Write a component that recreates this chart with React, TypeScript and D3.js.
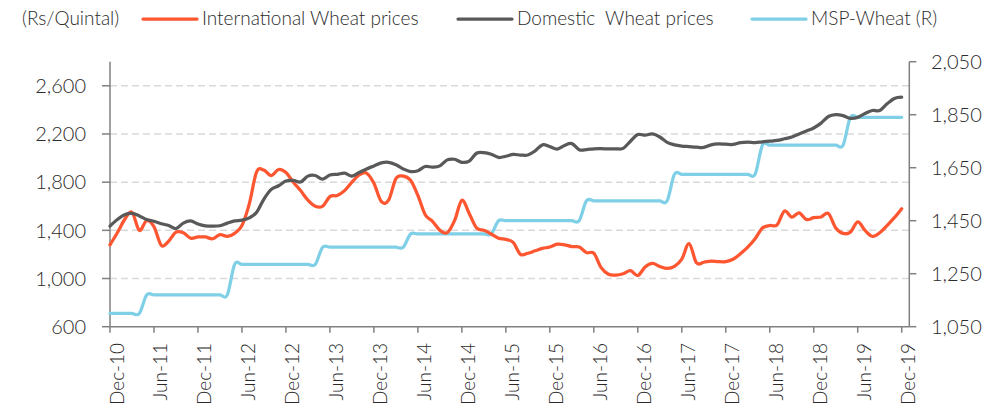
import React, { useEffect } from "react";
import * as d3 from "d3";

// monthly categories Dec-10 .. Dec-19
const months = d3
  .timeMonth.range(new Date(2010, 11, 1), new Date(2020, 0, 1))
  .map(d3.timeFormat("%b-%y"));

const tickLabels = [
  "Dec-10", "Jun-11", "Dec-11", "Jun-12", "Dec-12", "Jun-13", "Dec-13",
  "Jun-14", "Dec-14", "Jun-15", "Dec-15", "Jun-16", "Dec-16", "Jun-17",
  "Dec-17", "Jun-18", "Dec-18", "Jun-19", "Dec-19"
];
const leftTicks = [600, 1000, 1400, 1800, 2200, 2600];
const rightTicks = [1050, 1250, 1450, 1650, 1850, 2050];

const intlPrices = [
  1280, 1380, 1490, 1550, 1400, 1480, 1430, 1275, 1310, 1385,
  1380, 1335, 1345, 1345, 1330, 1365, 1350, 1375, 1440, 1620,
  1885, 1900, 1855, 1905, 1880, 1800, 1730, 1650, 1600, 1600,
  1680, 1690, 1730, 1800, 1860, 1875, 1790, 1640, 1650, 1830,
  1850, 1815, 1690, 1530, 1475, 1400, 1380, 1480, 1650, 1540,
  1420, 1400, 1370, 1335, 1325, 1300, 1200, 1210, 1230, 1250,
  1262, 1285, 1280, 1265, 1262, 1215, 1210, 1090, 1035, 1028,
  1040, 1065, 1025, 1095, 1125, 1100, 1084, 1100, 1160, 1290,
  1130, 1135, 1145, 1140, 1140, 1160, 1205, 1260, 1330, 1420,
  1440, 1445, 1560, 1510, 1545, 1490, 1505, 1511, 1540, 1420,
  1375, 1385, 1470, 1400, 1350, 1380, 1440, 1505, 1580
];

const domesticPrices = [
  1435, 1490, 1530, 1540, 1520, 1490, 1475, 1455, 1440, 1415,
  1460, 1478, 1452, 1437, 1434, 1438, 1460, 1478, 1485, 1503,
  1550, 1660, 1740, 1770, 1810, 1815, 1801, 1850, 1855, 1825,
  1860, 1865, 1875, 1850, 1880, 1910, 1935, 1960, 1965, 1945,
  1910, 1888, 1895, 1930, 1925, 1935, 1985, 1990, 1965, 1975,
  2040, 2045, 2032, 2005, 2015, 2030, 2025, 2025, 2060, 2110,
  2095, 2075, 2105, 2120, 2070, 2070, 2077, 2078, 2076, 2077,
  2080, 2140, 2195, 2190, 2200, 2175, 2130, 2110, 2100, 2095,
  2090, 2088, 2110, 2118, 2115, 2113, 2128, 2132, 2128, 2135,
  2140, 2146, 2160, 2175, 2200, 2225, 2250, 2290, 2345, 2360,
  2352, 2330, 2338, 2370, 2395, 2395, 2450, 2495, 2505
];

const mspWheat = [
  1100, 1100, 1100, 1100, 1100,
  1170, 1170, 1170, 1170, 1170, 1170, 1170, 1170, 1170, 1170, 1170, 1170,
  1285, 1285, 1285, 1285, 1285, 1285, 1285, 1285, 1285, 1285, 1285, 1285,
  1350, 1350, 1350, 1350, 1350, 1350, 1350, 1350, 1350, 1350, 1350, 1350,
  1400, 1400, 1400, 1400, 1400, 1400, 1400, 1400, 1400, 1400, 1400, 1400,
  1450, 1450, 1450, 1450, 1450, 1450, 1450, 1450, 1450, 1450, 1450, 1450,
  1525, 1525, 1525, 1525, 1525, 1525, 1525, 1525, 1525, 1525, 1525, 1525,
  1625, 1625, 1625, 1625, 1625, 1625, 1625, 1625, 1625, 1625, 1625, 1625,
  1735, 1735, 1735, 1735, 1735, 1735, 1735, 1735, 1735, 1735, 1735, 1735,
  1840, 1840, 1840, 1840, 1840, 1840, 1840, 1840
];

const W = 1004;
const H = 409;
const left = 110;
const right = 909.3;
const top = 61.7;
const bottom = 326.7;

const ORANGE = "#fd5630";
const GREY = "#595959";
const BLUE = "#7fd0e7";
const AXIS = "#808080";
const TEXT = "#2b2b2b";
const FONT = "Lato, 'Open Sans', sans-serif";

export default function App() {
  useEffect(() => {
    document.body.style.margin = "0";
  }, []);

  const x = d3.scalePoint().domain(months).range([left, 901.7]);
  const yL = d3.scaleLinear().domain([600, 2800]).range([bottom, top]);
  const yR = d3.scaleLinear().domain([1050, 2050]).range([bottom, top]);
  const fmt = d3.format(",");

  const lineL = d3
    .line<number>()
    .x((_, i) => x(months[i]) as number)
    .y(d => yL(d))
    .curve(d3.curveCardinal);
  const lineR = d3
    .line<number>()
    .x((_, i) => x(months[i]) as number)
    .y(d => yR(d))
    .curve(d3.curveCardinal);

  const legend = [
    { label: "International Wheat prices", color: ORANGE, x: 143 },
    { label: "Domestic  Wheat prices", color: GREY, x: 458 },
    { label: "MSP-Wheat (R)", color: BLUE, x: 752 }
  ];

  return (
    <svg width={W} height={H} style={{ display: "block", background: "#fff" }}
      fontFamily={FONT} fontWeight={300}>
      {/* gridlines */}
      {leftTicks.slice(1).map(t => (
        <line key={t} x1={left} x2={right} y1={yL(t)} y2={yL(t)}
          stroke="#d9d9d9" strokeWidth={1.5} strokeDasharray="7,4" />
      ))}

      {/* left axis */}
      <line x1={left} x2={left} y1={top} y2={bottom} stroke={AXIS} strokeWidth={1.5} />
      {leftTicks.map(t => (
        <g key={t}>
          <line x1={left - 8} x2={left} y1={yL(t)} y2={yL(t)} stroke={AXIS} strokeWidth={1.5} />
          <text x={86} y={yL(t)} dy="0.36em" textAnchor="end" fontSize={20} fill={TEXT}>{fmt(t)}</text>
        </g>
      ))}

      {/* right axis */}
      <line x1={right} x2={right} y1={top} y2={bottom} stroke={AXIS} strokeWidth={1.5} />
      {rightTicks.map(t => (
        <g key={t}>
          <line x1={right} x2={right + 7} y1={yR(t)} y2={yR(t)} stroke={AXIS} strokeWidth={1.5} />
          <text x={931} y={yR(t)} dy="0.36em" textAnchor="start" fontSize={20} fill={TEXT}>{fmt(t)}</text>
        </g>
      ))}

      {/* x axis */}
      <line x1={left} x2={right} y1={bottom} y2={bottom} stroke={AXIS} strokeWidth={1.5} />
      {tickLabels.map(l => {
        const tx = x(l) as number;
        return (
          <g key={l}>
            <line x1={tx} x2={tx} y1={bottom} y2={bottom + 6} stroke={AXIS} strokeWidth={1.5} />
            <text transform={`translate(${tx + 13.5},343) rotate(-90)`} textAnchor="end"
              fontSize={19} fill={TEXT}>{l}</text>
          </g>
        );
      })}

      {/* series */}
      <path d={lineR(mspWheat) ?? ""} fill="none" stroke={BLUE} strokeWidth={3.25} strokeLinecap="round" />
      <path d={lineL(intlPrices) ?? ""} fill="none" stroke={ORANGE} strokeWidth={3.25} strokeLinecap="round" />
      <path d={lineL(domesticPrices) ?? ""} fill="none" stroke={GREY} strokeWidth={3.25} strokeLinecap="round" />

      {/* legend */}
      <text x={22} y={25} fontSize={19} fill={TEXT}>(Rs/Quintal)</text>
      {legend.map(d => (
        <g key={d.label}>
          <line x1={d.x} x2={d.x + 54} y1={19} y2={19} stroke={d.color} strokeWidth={3.25} strokeLinecap="round" />
          <text x={d.x + 59} y={25} fontSize={19} fill={TEXT} style={{ whiteSpace: "pre" }}>{d.label}</text>
        </g>
      ))}
    </svg>
  );
}
